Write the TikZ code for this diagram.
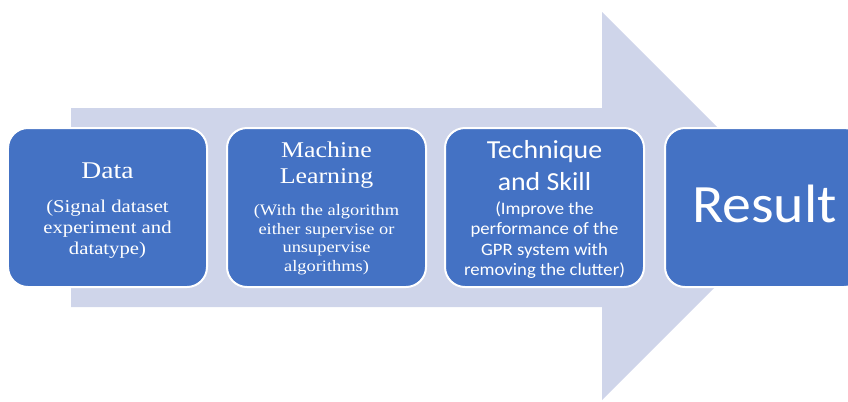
\documentclass[tikz,border=0pt]{standalone}
\usepackage{fontspec}
\setmainfont[FakeStretch=1.15]{Liberation Serif}
\newfontfamily\calib[FakeStretch=1.07]{Carlito}
\definecolor{arrowfill}{HTML}{CFD5EA}
\definecolor{boxfill}{HTML}{4472C4}
\begin{document}
\begin{tikzpicture}[x=1bp,y=-1bp,
  stagebox/.style={draw=white, line width=2bp, fill=boxfill, rounded corners=20bp,
    minimum width=199bp, minimum height=159bp, inner sep=0pt},
  wtext/.style={text=white, align=center, inner sep=0pt}]
\useasboundingbox (0,0) rectangle (848,401);
\clip (0,0) rectangle (848,401);
% big arrow
\fill[arrowfill] (71,108) -- (602,108) -- (602,12) -- (796,206) -- (602,400) -- (602,307) -- (71,307) -- cycle;
% boxes
\node[stagebox] (b1) at (107.5,207.5) {};
\node[stagebox] (b2) at (326.5,207.5) {};
\node[stagebox] (b3) at (544.5,207.5) {};
\node[stagebox] (b4) at (764.5,207.5) {};
% box 1
\node[wtext, anchor=base, font=\fontsize{24bp}{28bp}\selectfont] (t1) at (107.5,178) {Data};
\node[wtext, anchor=north, font=\fontsize{18bp}{21bp}\selectfont] (s1) at (107.5,200) {(Signal dataset\\experiment and\\datatype)};
% box 2
\node[wtext, anchor=north, font=\fontsize{22.5bp}{26bp}\selectfont] (t2) at (326.5,142) {Machine\\Learning};
\node[wtext, anchor=north, font=\fontsize{16bp}{18.7bp}\selectfont] (s2) at (326.5,204) {(With the algorithm\\either supervise or\\unsupervise\\algorithms)};
% box 3
\node[wtext, anchor=north, font=\calib\fontsize{26bp}{32bp}\selectfont] (t3) at (544.5,140) {Technique\\and Skill};
\node[wtext, anchor=north, font=\calib\fontsize{17.5bp}{20bp}\selectfont] (s3) at (544.5,202) {(Improve the\\performance of the\\GPR system with\\removing the clutter)};
% box 4
\node[wtext, anchor=base, font=\calib\fontsize{54bp}{64bp}\selectfont] (t4) at (764.5,222) {Result};
\end{tikzpicture}
\end{document}
